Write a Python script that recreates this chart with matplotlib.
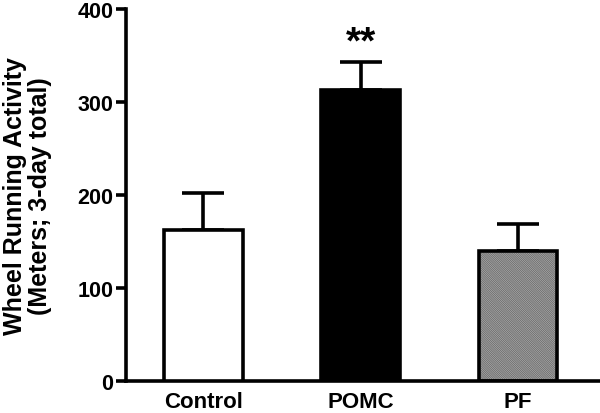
import matplotlib
matplotlib.use('Agg')
import matplotlib.pyplot as plt
import numpy as np

groups = ['Control', 'POMC', 'PF']
means = [162, 313, 140]
sems = [40, 30, 29]
y_ticks = [0, 100, 200, 300, 400]

plt.rcParams['font.family'] = ['Liberation Sans', 'DejaVu Sans']
plt.rcParams['font.weight'] = 'bold'
plt.rcParams['hatch.linewidth'] = 0.7

fig = plt.figure(figsize=(6, 4.14), dpi=100)
ax = fig.add_axes([0.21, 0.077, 0.79, 0.899])

x = np.arange(len(groups))
lw = 2.6

# hatched fill for PF goes under the outlines
ax.bar(x[2], means[2], width=0.5, color='#e2e2e2', edgecolor='#6a6a6a', hatch='\\' * 18, linewidth=0, zorder=2)
ax.bar(x, means, width=0.5, color=['white', 'black', 'none'], edgecolor='black', linewidth=lw, zorder=3)
ax.errorbar(x, means, yerr=[np.zeros(len(sems)), sems], fmt='none', ecolor='black',
            elinewidth=lw, capsize=15, capthick=lw, zorder=1)

ax.text(x[1], means[1] + sems[1] + 2, '**', ha='center', va='bottom', fontsize=28, fontweight='bold')

ax.set_xlim(-0.49, 2.52)
ax.set_ylim(0, 400)
ax.set_yticks(y_ticks)
ax.set_xticks(x)
ax.set_xticklabels(groups)
ax.tick_params(axis='x', length=0, labelsize=16, pad=7)
ax.tick_params(axis='y', length=7, width=lw, labelsize=15.5, pad=2)
for s in ['top', 'right']:
    ax.spines[s].set_visible(False)
for s in ['left', 'bottom']:
    ax.spines[s].set_linewidth(lw)
ax.set_ylabel('Wheel Running Activity\n(Meters; 3-day total)', fontsize=18, fontweight='bold',
              labelpad=18, linespacing=1.1)

fig.savefig('out.png', dpi=100)
